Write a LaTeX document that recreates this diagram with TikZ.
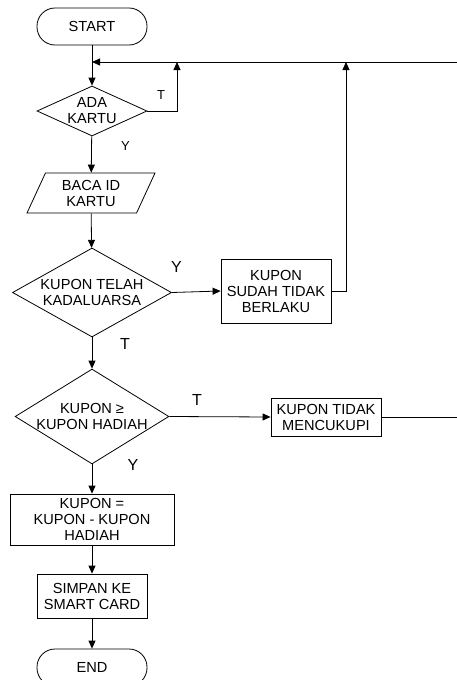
\documentclass[tikz,border=0pt]{standalone}
\usepackage{fontspec}
\setmainfont{Liberation Sans}
\usetikzlibrary{arrows.meta,shapes.geometric}

\begin{document}
\begin{tikzpicture}[x=1pt, y=-1pt,
	line width=0.8pt,
	every node/.style={font=\fontsize{14.6}{16}\selectfont, align=center},
	terminal/.style={draw, rectangle, rounded corners=18pt, minimum width=110pt, minimum height=37pt},
	process/.style={draw, rectangle, inner sep=2pt},
	decision/.style={draw, diamond, inner sep=0pt},
	inputbox/.style={draw, trapezium, trapezium left angle=55, trapezium right angle=125, trapezium stretches body, minimum width=128pt, minimum height=40pt, inner sep=0pt},
	flow/.style={-{Triangle[length=8pt,width=7pt]}},
	smalllbl/.style={font=\fontsize{13}{13}\selectfont, inner sep=0pt},
	biglbl/.style={font=\fontsize{16}{16}\selectfont, inner sep=0pt}]
	%%%%% START %%%%%
	\useasboundingbox (0,0) rectangle (457,680);
	\clip (0,0) rectangle (457,680);
	
	\node[terminal] (start) at (92, 26.5) {START};
	\node[decision, minimum width=110pt, minimum height=50pt, aspect=2.2] (ada) at (92, 111) {ADA\\KARTU};
	\node[inputbox] (baca) at (91, 193) {BACA ID\\KARTU};
	\node[decision, minimum width=159pt, minimum height=89pt, aspect=1.79] (kadal) at (92, 292.5) {KUPON TELAH\\KADALUARSA};
	\node[process, minimum width=110pt, minimum height=64pt] (sudah) at (276, 291) {KUPON\\SUDAH TIDAK\\BERLAKU};
	\node[decision, minimum width=151pt, minimum height=93pt, aspect=1.62] (cukup) at (92, 416.5) {KUPON ≥\\KUPON HADIAH};
	\node[process, minimum width=110pt, minimum height=38pt] (tidak) at (326, 417) {KUPON TIDAK\\MENCUKUPI};
	\node[process, minimum width=164pt, minimum height=51pt] (kurang) at (92, 519.5) {KUPON =\\KUPON - KUPON\\HADIAH};
	\node[process, minimum width=110pt, minimum height=44pt] (simpan) at (92, 596) {SIMPAN KE\\SMART CARD};
	\node[terminal] (end) at (92, 667.5) {END};
	
	% return line along the top
	\coordinate (rtop) at (457, 62);
	\coordinate (join) at (92, 62);
	\coordinate (tjoin) at (177, 62);
	\coordinate (sjoin) at (346, 62);
	\coordinate (rmid) at (457, 417);
	
	\draw[flow] (start) -- (ada);
	\draw[flow] (rtop) -- (join);
	\draw[flow] (ada.east) -| (tjoin);
	\draw[flow] (ada) -- (baca);
	\draw[flow] (baca) -- (kadal);
	\draw[flow] (kadal.east) -- (sudah.west);
	\draw[flow] (sudah.east) -| (sjoin);
	\draw[flow] (kadal) -- (cukup);
	\draw[flow] (cukup.east) -- (tidak.west);
	\draw (tidak.east) -- (rmid);
	\draw[flow] (cukup) -- (kurang);
	\draw[flow] (kurang) -- (simpan);
	\draw[flow] (simpan) -- (end);
	
	\node[smalllbl] (t1) at (161, 95.5) {T};
	\node[smalllbl] (y1) at (125.5, 146) {Y};
	\node[biglbl] (y2) at (176.5, 266.5) {Y};
	\node[biglbl] (t2) at (125, 344) {T};
	\node[biglbl] (t3) at (197, 400) {T};
	\node[biglbl] (y3) at (133, 465) {Y};
	
	%%%%% END %%%%%
\end{tikzpicture}
\end{document}
